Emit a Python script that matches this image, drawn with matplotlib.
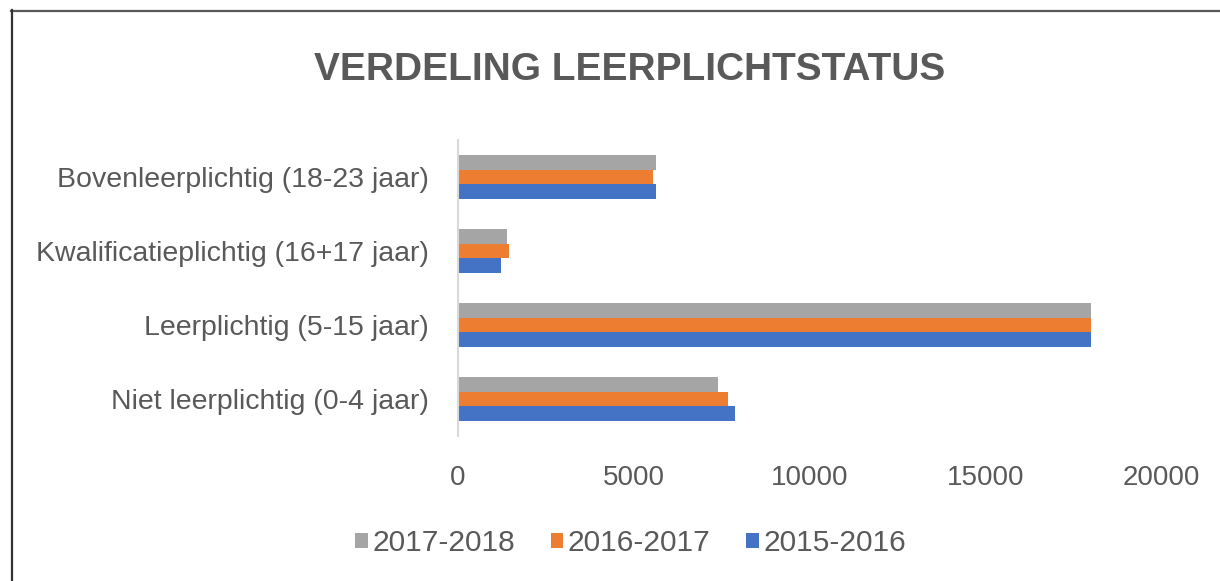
import matplotlib
matplotlib.use("Agg")
import matplotlib.pyplot as plt
from matplotlib.lines import Line2D
import numpy as np

categories = ["Niet leerplichtig (0-4 jaar)", "Leerplichtig (5-15 jaar)",
              "Kwalificatieplichtig (16+17 jaar)", "Bovenleerplichtig (18-23 jaar)"]
jaar_2015 = [7870, 18020, 1220, 5620]
jaar_2016 = [7670, 18020, 1450, 5540]
jaar_2017 = [7390, 18020, 1390, 5620]
xticks = [0, 5000, 10000, 15000, 20000]

fam = ["Liberation Sans", "DejaVu Sans"]
txt = "#595959"

fig = plt.figure(figsize=(12.2, 5.81), dpi=100)
ax = fig.add_axes([458 / 1220, 1 - 436 / 581, (1161 - 458) / 1220, 296 / 581])

y = np.arange(len(categories))
h = 0.2
ax.barh(y - h, jaar_2015, height=h, color="#4472C4", label="2015-2016")
ax.barh(y, jaar_2016, height=h, color="#ED7D31", label="2016-2017")
ax.barh(y + h, jaar_2017, height=h, color="#A5A5A5", label="2017-2018")

ax.set_xlim(0, 20000)
ax.set_ylim(-0.5, 3.5)
ax.set_yticks(y)
ax.set_yticklabels(categories, family=fam, fontsize=20.5, color=txt)
ax.set_xticks(xticks)
ax.set_xticklabels([str(t) for t in xticks], family=fam, fontsize=20, color=txt)
ax.tick_params(axis="y", length=0, pad=21)
ax.tick_params(axis="x", length=0, pad=21)
for s in ["top", "right", "bottom"]:
    ax.spines[s].set_visible(False)
ax.spines["left"].set_color("#D9D9D9")
ax.spines["left"].set_linewidth(1.5)

fig.text(0.516, 1 - 70 / 581, "VERDELING LEERPLICHTSTATUS", ha="center", va="center",
         family=fam, fontsize=28, fontweight="bold", color=txt)

handles, labels = ax.get_legend_handles_labels()
leg = fig.legend(handles[::-1], labels[::-1], loc="center", bbox_to_anchor=(0.517, 1 - 543 / 581),
                 ncol=3, frameon=False, handlelength=0.42, handleheight=0.42, handletextpad=0.15,
                 columnspacing=1.2, prop={"family": fam, "size": 21.5})
for t in leg.get_texts():
    t.set_color(txt)

fig.add_artist(Line2D([11 / 1220, 1], [1 - 10.5 / 581, 1 - 10.5 / 581], color="#595959", lw=1.6,
                      transform=fig.transFigure))
fig.add_artist(Line2D([11.5 / 1220, 11.5 / 1220], [0, 1 - 10 / 581], color="#333333", lw=1.6,
                      transform=fig.transFigure))

fig.savefig("out.png", dpi=100)
